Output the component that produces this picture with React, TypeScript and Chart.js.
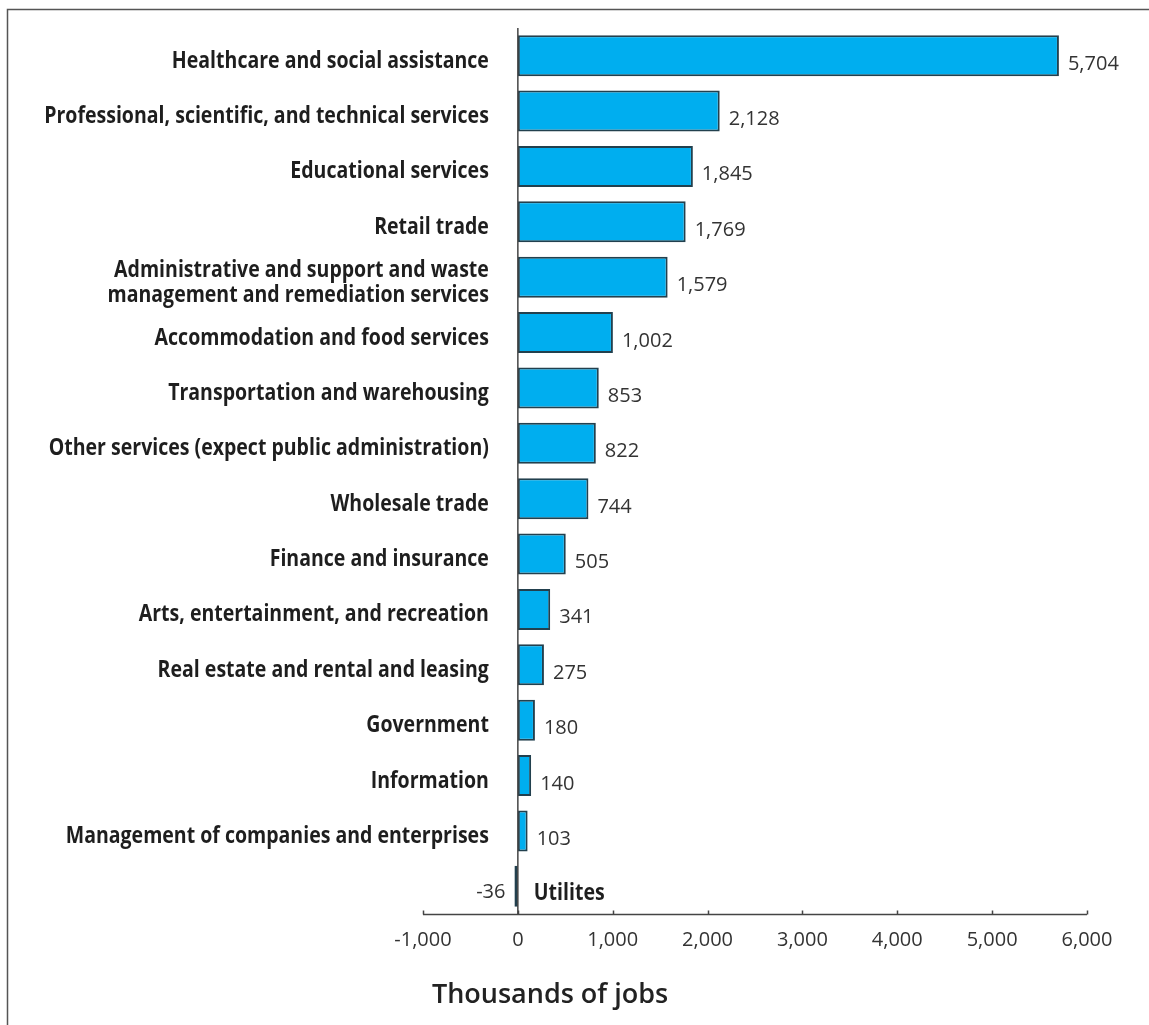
import React, { useEffect, useRef } from "react";
import { Chart, registerables } from "chart.js";

Chart.register(...registerables);

const categories: string[][] = [
  ["Healthcare and social assistance"],
  ["Professional, scientific, and technical services"],
  ["Educational services"],
  ["Retail trade"],
  ["Administrative and support and waste", "management and remediation services"],
  ["Accommodation and food services"],
  ["Transportation and warehousing"],
  ["Other services (expect public administration)"],
  ["Wholesale trade"],
  ["Finance and insurance"],
  ["Arts, entertainment, and recreation"],
  ["Real estate and rental and leasing"],
  ["Government"],
  ["Information"],
  ["Management of companies and enterprises"],
  ["Utilites"],
];

const jobs: number[] = [5704, 2128, 1845, 1769, 1579, 1002, 853, 822, 744, 505, 341, 275, 180, 140, 103, -36];

const xTicks: number[] = [-1000, 0, 1000, 2000, 3000, 4000, 5000, 6000];

const axisTitle = "Thousands of jobs";

const fmt = (v: number) => v.toLocaleString("en-US");

const CAT_FONT = "bold 24px 'Open Sans', 'DejaVu Sans', sans-serif";
const NUM_FONT = "20px 'Open Sans', 'DejaVu Sans', sans-serif";

const decorPlugin = {
  id: "decor",
  afterDatasetsDraw(chart: any) {
    const ctx = chart.ctx as CanvasRenderingContext2D;
    const x = chart.scales.x;
    const y = chart.scales.y;
    const x0 = x.getPixelForValue(0);
    const meta = chart.getDatasetMeta(0);
    ctx.save();
    // frame
    ctx.strokeStyle = "#555";
    ctx.lineWidth = 1.5;
    ctx.beginPath();
    ctx.moveTo(7.5, 1025);
    ctx.lineTo(7.5, 9.5);
    ctx.lineTo(1149, 9.5);
    ctx.stroke();
    // zero axis line
    ctx.strokeStyle = "#444";
    ctx.lineWidth = 1.5;
    ctx.beginPath();
    ctx.moveTo(x0, 28);
    ctx.lineTo(x0, chart.chartArea.bottom);
    ctx.stroke();
    // x axis line + ticks
    const by = chart.chartArea.bottom + 0.5;
    ctx.beginPath();
    ctx.moveTo(x.getPixelForValue(xTicks[0]), by);
    ctx.lineTo(x.getPixelForValue(xTicks[xTicks.length - 1]), by);
    xTicks.forEach((t) => {
      const px = Math.round(x.getPixelForValue(t)) + 0.5;
      ctx.moveTo(px, by);
      ctx.lineTo(px, by - 4);
    });
    ctx.stroke();

    // condensed look: squeeze bold text horizontally
    ctx.font = CAT_FONT;
    const sx = 317 / ctx.measureText(categories[0][0]).width;

    ctx.textBaseline = "alphabetic";
    categories.forEach((lines, i) => {
      const cy = y.getPixelForValue(i);
      const v = jobs[i];
      ctx.fillStyle = "#1e1e1e";
      ctx.font = CAT_FONT;
      if (v >= 0) {
        ctx.textAlign = "right";
        const lh = 25;
        lines.forEach((ln, j) => {
          const ty = cy + 12 + (j - (lines.length - 1) / 2) * lh;
          ctx.save();
          ctx.translate(x0 - 29, ty);
          ctx.scale(sx, 1);
          ctx.fillText(ln, 0, 0);
          ctx.restore();
        });
      } else {
        ctx.textAlign = "left";
        ctx.save();
        ctx.translate(x0 + 16, cy + 14);
        ctx.scale(sx, 1);
        ctx.fillText(lines[0], 0, 0);
        ctx.restore();
      }
      const bar = meta.data[i];
      ctx.font = NUM_FONT;
      ctx.fillStyle = "#333";
      if (v >= 0) {
        ctx.textAlign = "left";
        ctx.fillText(fmt(v), bar.x + 9, cy + 14);
      } else {
        ctx.textAlign = "right";
        ctx.fillText(fmt(v), bar.x - 9, cy + 12);
      }
    });

    // axis title
    ctx.font = "600 27px 'Open Sans', 'DejaVu Sans', sans-serif";
    ctx.fillStyle = "#222";
    ctx.textAlign = "center";
    ctx.fillText(axisTitle, 550, 1003);
    ctx.restore();
  },
};

export default function App() {
  const ref = useRef<HTMLCanvasElement>(null);
  useEffect(() => {
    if (!ref.current) return;
    const chart = new Chart(ref.current, {
      type: "bar",
      data: {
        labels: categories.map((c) => c.join(" ")),
        datasets: [
          {
            data: jobs,
            backgroundColor: "#00AEEF",
            borderColor: "#22404e",
            borderWidth: 2,
            borderSkipped: false,
            categoryPercentage: 1,
            barPercentage: 0.74,
          },
        ],
      },
      options: {
        indexAxis: "y",
        animation: false,
        responsive: false,
        maintainAspectRatio: false,
        layout: { padding: { left: 423, right: 62, top: 28, bottom: 0 } },
        plugins: { legend: { display: false }, tooltip: { enabled: false } },
        scales: {
          y: { display: false },
          x: {
            min: -1000,
            max: 6000,
            grid: { display: false, drawTicks: false },
            border: { display: false },
            afterFit: (s: any) => {
              s.height = 111;
            },
            afterBuildTicks: (s: any) => {
              s.ticks = xTicks.map((v) => ({ value: v }));
            },
            ticks: {
              padding: 14,
              color: "#333",
              font: { family: "'Open Sans', 'DejaVu Sans', sans-serif", size: 20 },
              callback: (v: any) => fmt(Number(v)),
              maxRotation: 0,
              autoSkip: false,
            },
          },
        },
      },
      plugins: [decorPlugin],
    });
    return () => chart.destroy();
  }, []);
  return (
    <div style={{ position: "absolute", left: 0, top: 0, width: 1149, height: 1025, background: "#fff" }}>
      <canvas ref={ref} width={1149} height={1025} style={{ width: 1149, height: 1025 }} />
    </div>
  );
}
